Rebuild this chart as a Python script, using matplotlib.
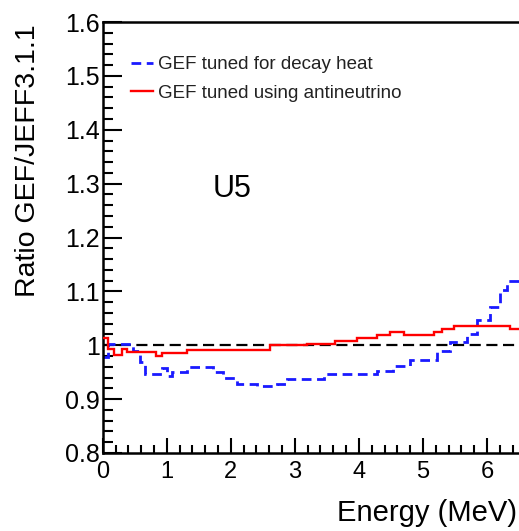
import matplotlib
matplotlib.use("Agg")
import matplotlib.pyplot as plt
from matplotlib.ticker import MultipleLocator
import numpy as np

plt.rcParams['font.family'] = ['Liberation Sans', 'DejaVu Sans']

# Data: step histograms (bin edges in MeV, ratio values)
blue_edges = [0.0, 0.09, 0.48, 0.58, 0.66, 0.92, 1.0, 1.08, 1.31, 1.73, 1.88, 2.09,
              2.41, 2.72, 2.875, 3.45, 4.28, 4.54, 4.80, 5.22, 5.43, 5.69, 5.84,
              6.05, 6.21, 6.31, 6.5]
blue_vals = [0.978, 1.003, 0.99, 0.969, 0.947, 0.958, 0.943, 0.95, 0.96, 0.95, 0.94,
             0.929, 0.924, 0.929, 0.938, 0.947, 0.953, 0.961, 0.973, 0.99, 1.006,
             1.02, 1.046, 1.071, 1.102, 1.12]

red_edges = [0.0, 0.09, 0.17, 0.30, 0.375, 0.84, 0.92, 1.31, 2.61, 3.19, 3.63, 3.97,
             4.28, 4.49, 4.70, 5.17, 5.30, 5.48, 6.36, 6.5]
red_vals = [1.013, 0.993, 0.981, 0.993, 0.988, 0.98, 0.985, 0.992, 1.0, 1.003, 1.008,
            1.0135, 1.0186, 1.025, 1.0186, 1.025, 1.030, 1.035, 1.030]

labels = ["GEF tuned for decay heat", "GEF tuned using antineutrino"]
xticks = [0, 1, 2, 3, 4, 5, 6]
yticks = [0.8, 0.9, 1.0, 1.1, 1.2, 1.3, 1.4, 1.5, 1.6]
yticklabels = ["0.8", "0.9", "1", "1.1", "1.2", "1.3", "1.4", "1.5", "1.6"]

W, H = 519, 531
fig = plt.figure(figsize=(W / 100, H / 100), dpi=100)
left, right, top, bottom = 102.7, 519, 22, 453
ax = fig.add_axes([left / W, (H - bottom) / H, (right - left) / W, (bottom - top) / H])

ax.set_xlim(0, 6.5)
ax.set_ylim(0.8, 1.6)

ax.axhline(1.0, color='black', lw=1.6, ls=(0, (5, 2.5)), zorder=1)
ax.stairs(blue_vals, blue_edges, color='#1a1aff', lw=2.0, ls=(0, (3.5, 2)),
          baseline=None, label=labels[0], zorder=2)
ax.stairs(red_vals, red_edges, color='#ff0000', lw=1.7, baseline=None,
          label=labels[1], zorder=3)

ax.set_xticks(xticks)
ax.set_xticklabels([str(v) for v in xticks])
ax.set_yticks(yticks)
ax.set_yticklabels(yticklabels)
ax.xaxis.set_minor_locator(MultipleLocator(0.2))
ax.yaxis.set_minor_locator(MultipleLocator(0.02))

ax.tick_params(axis='both', which='both', direction='in', width=1.5, colors='black')
ax.tick_params(axis='x', which='major', length=11, labelsize=17, pad=6)
ax.tick_params(axis='x', which='minor', length=6)
ax.tick_params(axis='y', which='major', length=14, labelsize=18, pad=2)
ax.tick_params(axis='y', which='minor', length=7)
ax.tick_params(top=False, right=False, which='both')
for lbl in ax.get_yticklabels():
    lbl.set_verticalalignment('center_baseline')

for s in ['left', 'bottom', 'top']:
    ax.spines[s].set_linewidth(1.8)
ax.spines['right'].set_visible(False)

ax.set_ylabel("Ratio GEF/JEFF3.1.1", fontsize=20.5)
ax.yaxis.set_label_coords(-(left - 41) / (right - left), 1 - (161 - top) / (bottom - top))

fig.text(517 / W, 1 - 513 / H, "Energy (MeV)", fontsize=21, ha='right', va='center')

ax.text(1.72, 1.275, "U5", fontsize=22, ha='left', va='baseline')

leg = ax.legend(loc='upper left', bbox_to_anchor=((131 - left) / (right - left), 1 - (56 - top) / (bottom - top)),
                frameon=False, fontsize=13.5, handlelength=1.15, handletextpad=0.3,
                labelspacing=0.6, borderaxespad=0, borderpad=0)
for t in leg.get_texts():
    t.set_color('#222222')

fig.savefig("out.png", dpi=100)
